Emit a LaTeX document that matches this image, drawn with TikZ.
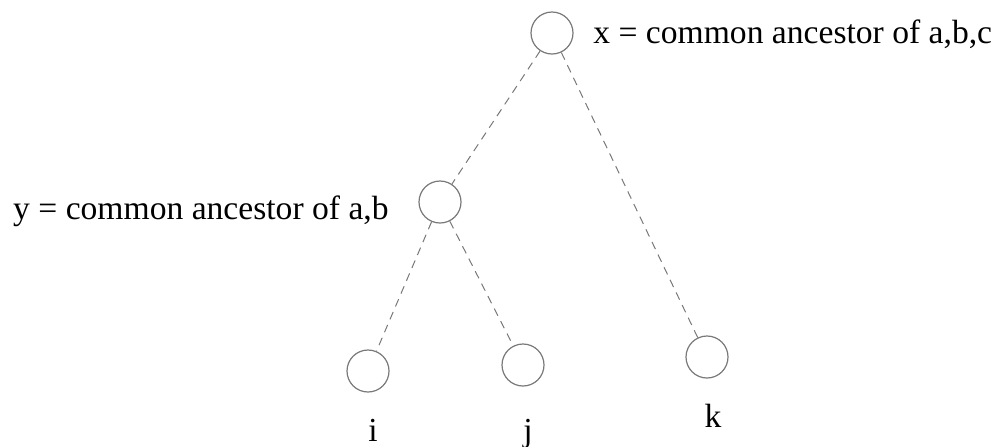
\documentclass[tikz,border=0pt]{standalone}
\usepackage{fontspec}
\setmainfont{Liberation Serif}
\usepackage{tikz}
\usepackage{xcolor}

\definecolor{treegray}{RGB}{120,120,120}

\begin{document}
\begin{tikzpicture}[x=0.5pt,y=-0.5pt,
    vert/.style={circle,draw=treegray,line width=0.6pt,inner sep=0pt,minimum size=21pt},
    anc/.style={draw=treegray,line width=0.5pt,dash pattern=on 4pt off 3pt},
    lbl/.style={inner sep=0pt,font=\fontsize{16.8}{20}\selectfont}]
    \useasboundingbox (0,0) rectangle (999,446);

    % vertices of the tree
    \node[vert] (X) at (552,33) {};
    \node[vert] (Y) at (440,202) {};
    \node[vert] (I) at (368,371) {};
    \node[vert] (J) at (523,365) {};
    \node[vert] (K) at (707,357) {};

    % labels
    \node[lbl,anchor=base west] (Xl) at (593,43) {x = common ancestor of a,b,c};
    \node[lbl,anchor=base east] (Yl) at (389,219) {y = common ancestor of a,b};
    \node[lbl,anchor=base] (Il) at (373,441) {i};
    \node[lbl,anchor=base] (Jl) at (528,441) {j};
    \node[lbl,anchor=base] (Kl) at (713,427) {k};

    % dashed ancestor paths
    \draw[anc] (X) -- (Y);
    \draw[anc] (X) -- (K);
    \draw[anc] (Y) -- (I);
    \draw[anc] (Y) -- (J);
\end{tikzpicture}
\end{document}
